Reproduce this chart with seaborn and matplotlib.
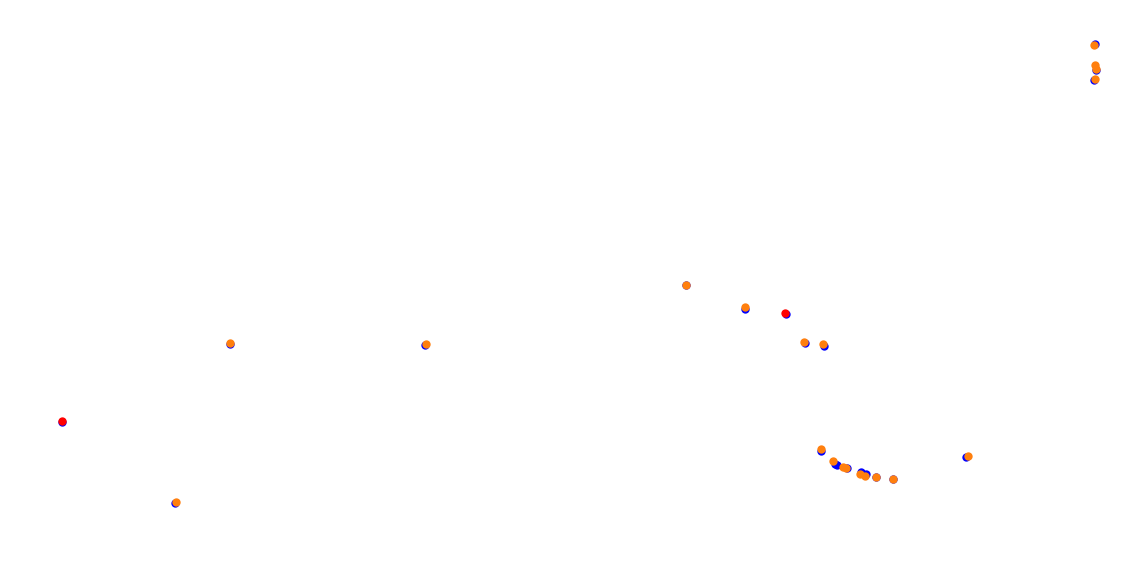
import numpy as np
import pandas as pd
import matplotlib
matplotlib.use("Agg")
import matplotlib.pyplot as plt
import seaborn as sns

# positions (x to the right, y downward)
blue_x = [1095, 1096, 1094, 745, 786, 805, 824, 62, 230, 425, 175,
          821, 835, 837, 847, 861, 866, 966, 686, 876, 893]
blue_y = [44, 70, 80, 309, 314, 343, 346, 422, 344, 345, 503,
          451, 464, 465, 468, 472, 474, 457, 285, 477, 479]

orange_x = [1094, 1095, 1096, 1095, 686, 745, 804, 823, 230, 426, 176,
            821, 833, 843, 846, 860, 865, 876, 893, 968]
orange_y = [45, 65, 69, 79, 285, 307, 342, 344, 343, 344, 502,
            449, 461, 467, 468, 474, 476, 477, 479, 456]

red_x = [785, 62]
red_y = [313, 421]

blue = pd.DataFrame({"x": blue_x, "y": blue_y})
orange = pd.DataFrame({"x": orange_x, "y": orange_y})
red = pd.DataFrame({"x": red_x, "y": red_y})

fig = plt.figure(figsize=(11.22, 5.74), dpi=100)
ax = fig.add_axes([0, 0, 1, 1])

sns.scatterplot(data=blue, x="x", y="y", color="#0000ff", s=36, linewidth=0, ax=ax)
sns.scatterplot(data=orange, x="x", y="y", color="#ff7f0e", s=36, linewidth=0, ax=ax)
sns.scatterplot(data=red, x="x", y="y", color="#ff0000", s=36, linewidth=0, ax=ax)

ax.set_xlim(0, 1122)
ax.set_ylim(574, 0)
ax.axis("off")

fig.savefig("out.png", dpi=100, facecolor="white")
